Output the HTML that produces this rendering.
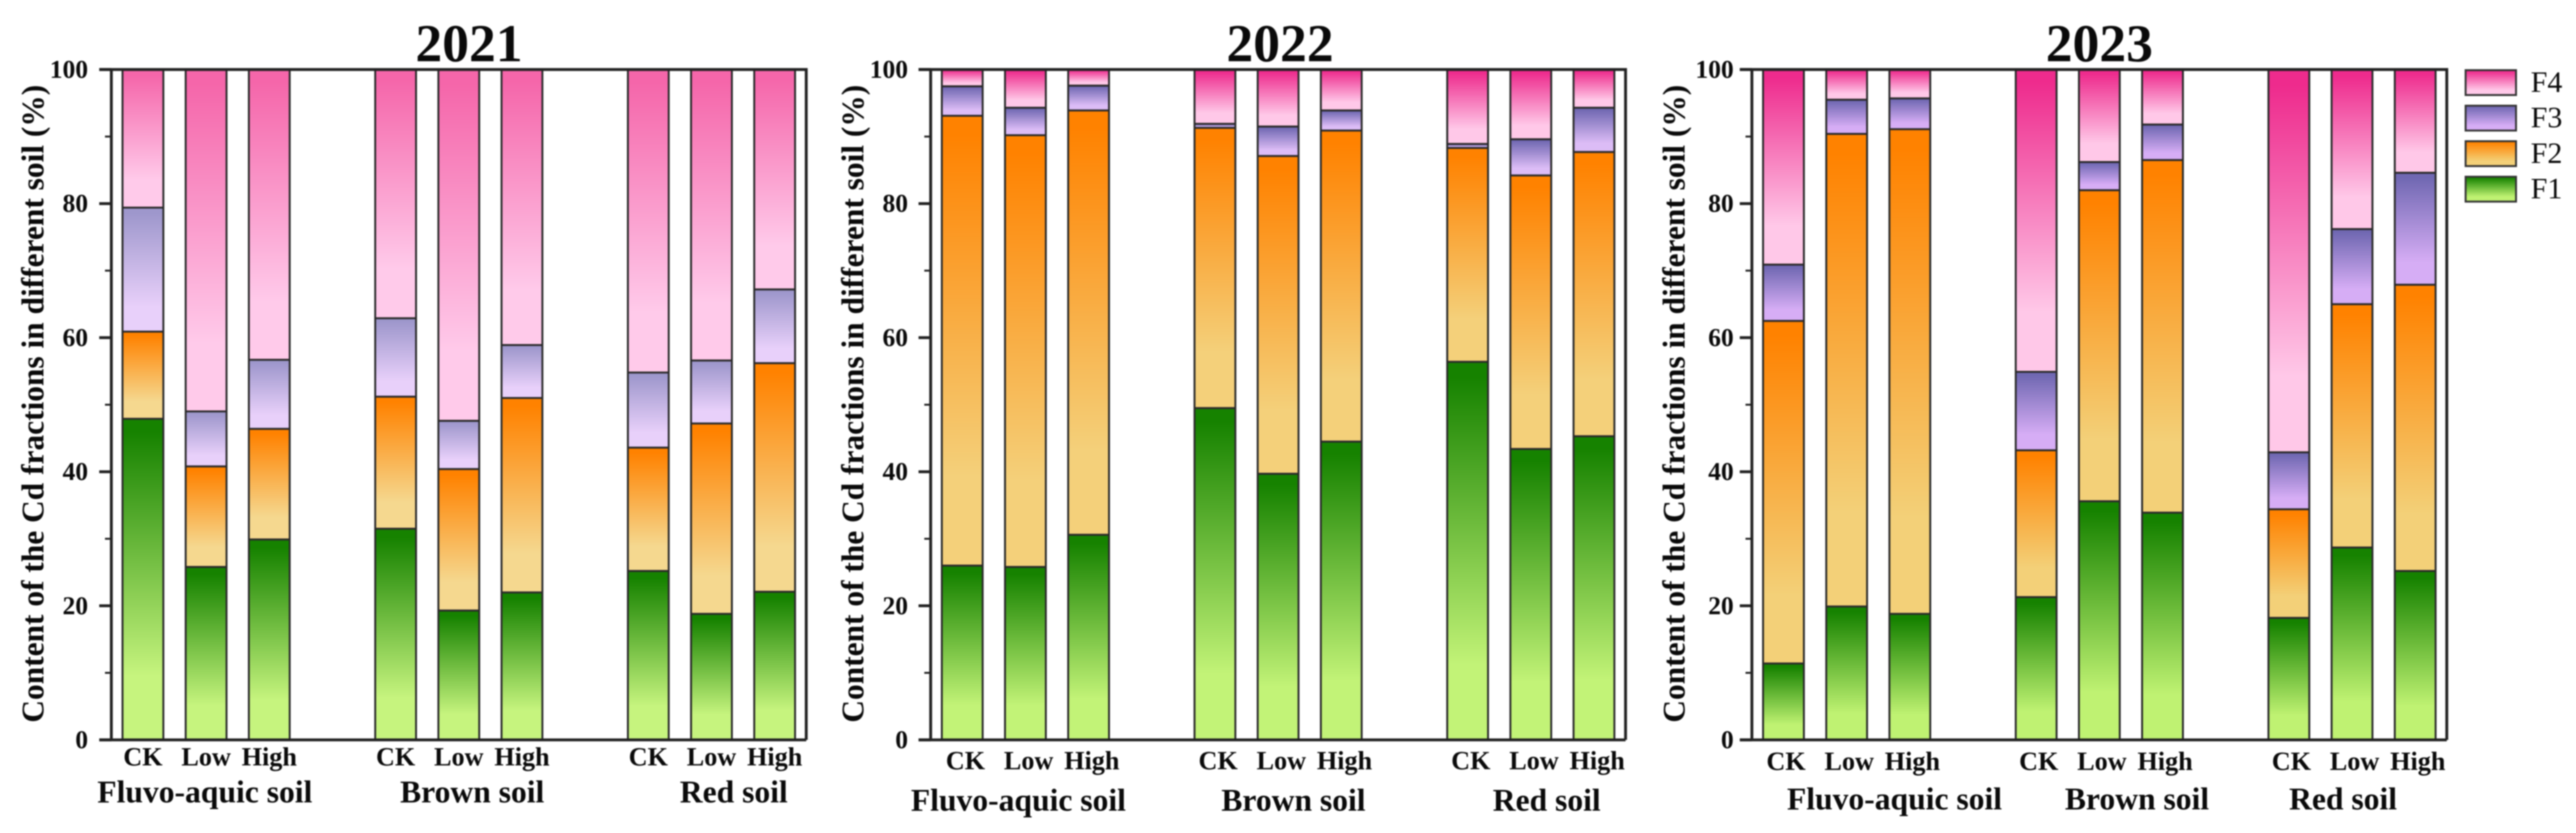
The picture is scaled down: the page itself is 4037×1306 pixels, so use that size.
<!DOCTYPE html>
<html lang="en">
<head>
<meta charset="utf-8">
<title>Cd fractions in different soil</title>
<style>
html,body{margin:0;padding:0;background:#fff;}
body{width:4037px;height:1306px;overflow:hidden;}
svg{display:block;filter:blur(1px);}
text{font-family:"Liberation Serif",serif;fill:#0a0a0a;}
</style>
</head>
<body>
<svg id="figure" xmlns="http://www.w3.org/2000/svg" width="4037" height="1306" viewBox="0 0 4037 1306">
<defs id="defs"></defs>
<rect x="0" y="0" width="4037" height="1306" fill="#ffffff"></rect>
<g id="panels"></g>
<g id="legend"></g>
</svg>
<script>
const years = ['2021', '2022', '2023'];
const treatments = ['CK', 'Low', 'High', 'CK', 'Low', 'High', 'CK', 'Low', 'High'];
const soils = ['Fluvo-aquic soil', 'Brown soil', 'Red soil'];
const seriesNames = ['F1', 'F2', 'F3', 'F4'];
const yTicks = [0, 20, 40, 60, 80, 100];
const yMinorTicks = [10, 30, 50, 70, 90];
const yTitle = 'Content of the Cd fractions in different soil (%)';

const f1_2021 = [47.9, 25.8, 29.9, 31.5, 19.3, 22.0, 25.2, 18.8, 22.1];
const f2_2021 = [13.0, 15.0, 16.5, 19.7, 21.1, 29.0, 18.4, 28.4, 34.1];
const f3_2021 = [18.5, 8.2, 10.3, 11.7, 7.2, 7.9, 11.2, 9.4, 11.0];
const f4_2021 = [20.6, 51.0, 43.3, 37.1, 52.4, 41.1, 45.2, 43.4, 32.8];

const f1_2022 = [26.0, 25.8, 30.6, 49.5, 39.7, 44.5, 56.4, 43.4, 45.3];
const f2_2022 = [67.1, 64.4, 63.3, 41.8, 47.4, 46.4, 31.9, 40.8, 42.4];
const f3_2022 = [4.4, 4.1, 3.7, 0.6, 4.4, 3.0, 0.6, 5.4, 6.6];
const f4_2022 = [2.5, 5.7, 2.4, 8.1, 8.5, 6.1, 11.1, 10.4, 5.7];

const f1_2023 = [11.4, 19.9, 18.8, 21.3, 35.6, 33.9, 18.2, 28.7, 25.2];
const f2_2023 = [51.1, 70.5, 72.3, 21.9, 46.4, 52.6, 16.2, 36.3, 42.7];
const f3_2023 = [8.4, 5.1, 4.6, 11.7, 4.2, 5.3, 8.5, 11.2, 16.7];
const f4_2023 = [29.1, 4.5, 4.3, 45.1, 13.8, 8.2, 57.1, 23.8, 15.4];

const yearSeries = [
  [f1_2021, f2_2021, f3_2021, f4_2021],
  [f1_2022, f2_2022, f3_2022, f4_2022],
  [f1_2023, f2_2023, f3_2023, f4_2023]
];

/* layout only, not data */
const NS = 'http://www.w3.org/2000/svg';
const plotTop = 109, plotBottom = 1160, step = 99, barWidth = 64;
const slots = [0, 1, 2, 4, 5, 6, 8, 9, 10];
const layouts = [
  { left: 174.5, titleX: 735, yTitleX: 68, tickRight: 138, labelShift: 0, treatY: 1200, soilY: 1258, soilX: [321, 740, 1150] },
  { left: 1458.5, titleX: 2006, yTitleX: 1353, tickRight: 1423, labelShift: 5, treatY: 1206, soilY: 1271, soilX: [1596, 2027, 2424] },
  { left: 2745.5, titleX: 3290, yTitleX: 2640, tickRight: 2717, labelShift: 4, treatY: 1207, soilY: 1269, soilX: [2969, 3349, 3672] }
];
const palettes = [
  [['#168200', '#c6f47e'], ['#ff8200', '#f5d88f'], ['#9e97cc', '#e8d0fa'], ['#f566aa', '#ffcaea']],
  [['#168200', '#c2f377'], ['#ff8200', '#f4d07a'], ['#7068b2', '#dcbcf6'], ['#ee2b8d', '#ffc8e8']],
  [['#168200', '#bff272'], ['#ff8200', '#f3d078'], ['#7068b2', '#d6adf5'], ['#ee2b8d', '#ffc8e8']]
];

function make(tag, attrs, parent, text) {
  const node = document.createElementNS(NS, tag);
  for (const k in attrs) node.setAttribute(k, attrs[k]);
  if (text !== undefined) node.textContent = text;
  parent.appendChild(node);
  return node;
}
function yScale(v) {
  return plotBottom - (v / 100) * (plotBottom - plotTop);
}
function xScale(layout, slot) {
  return layout.left + (slot + 0.5) * step;
}

const defs = document.getElementById('defs');
palettes.forEach(function (pal, p) {
  pal.forEach(function (pair, s) {
    const g = make('linearGradient', { id: 'grad-' + p + '-' + s, x1: 0, y1: 0, x2: 0, y2: 1 }, defs);
    make('stop', { offset: '0.04', 'stop-color': pair[0] }, g);
    make('stop', { offset: '0.8', 'stop-color': pair[1] }, g);
  });
});

const panelsRoot = document.getElementById('panels');
years.forEach(function (year, p) {
  const L = layouts[p];
  const right = L.left + 11 * step;
  const panel = make('g', {}, panelsRoot);
  
  

  const title = make('text', { x: L.titleX, y: 96, 'text-anchor': 'middle', 'font-size': 84, 'font-weight': 'bold', fill: '#000' }, panel, year);
  
  

  const yCenter = 633;
  const yt = make('text', {
    x: 0, y: 0, transform: 'translate(' + L.yTitleX + ' ' + yCenter + ') rotate(-90)',
    'text-anchor': 'middle', 'font-size': 50, 'font-weight': 'bold',
    textLength: 1000, lengthAdjust: 'spacingAndGlyphs'
  }, panel, yTitle);
  
  

  /* stacked bars */
  slots.forEach(function (slot, i) {
    const cx = xScale(L, slot);
    let acc = 0;
    yearSeries[p].forEach(function (vals, s) {
      const y0 = yScale(acc);
      acc += vals[i];
      const y1 = yScale(acc);
      const seg = make('rect', {
        x: cx - barWidth / 2, y: y1, width: barWidth, height: Math.max(y0 - y1, 0.1),
        fill: 'url(#grad-' + p + '-' + s + ')', stroke: '#2a2a2a', 'stroke-width': 3
      }, panel);
      
      
    });
  });

  /* axes */
  const frame = make('path', {
    d: 'M' + L.left + ' ' + plotBottom + 'V' + plotTop + 'M' + (L.left - 19) + ' ' + plotTop + 'H' + right + 'V' + plotBottom + 'M' + (L.left - 19) + ' ' + plotBottom + 'H' + right,
    fill: 'none', stroke: '#222', 'stroke-width': 4.5
  }, panel);
  
  

  yTicks.forEach(function (t) {
    const y = yScale(t);
    const tk = make('line', { x1: L.left - 19, x2: L.left, y1: y, y2: y, stroke: '#222', 'stroke-width': 4.5 }, panel);
    
    
    const lb = make('text', { x: L.tickRight, y: y + 13, 'text-anchor': 'end', 'font-size': 40, 'font-weight': 'bold' }, panel, String(t));
    
    
  });
  yMinorTicks.forEach(function (t) {
    const y = yScale(t);
    const tk = make('line', { x1: L.left - 10, x2: L.left, y1: y, y2: y, stroke: '#222', 'stroke-width': 3 }, panel);
    
    
  });

  /* x labels */
  slots.forEach(function (slot, i) {
    const lb = make('text', { x: xScale(L, slot) + L.labelShift, y: L.treatY, 'text-anchor': 'middle', 'font-size': 41, 'font-weight': 'bold' }, panel, treatments[i]);
    
    
  });
  soils.forEach(function (soil, i) {
    const lb = make('text', { x: L.soilX[i], y: L.soilY, 'text-anchor': 'middle', 'font-size': 49.5, 'font-weight': 'bold' }, panel, soil);
    
    
  });
});

/* legend: F4 at top */
const legendRoot = document.getElementById('legend');
const legendOrder = [3, 2, 1, 0];
legendOrder.forEach(function (s, row) {
  const top = 110 + row * 55.7;
  const sw = make('rect', { x: 3864, y: top, width: 79, height: 39, fill: 'url(#grad-2-' + s + ')', stroke: '#333', 'stroke-width': 3 }, legendRoot);
  
  
  const tx = make('text', { x: 3966, y: top + 34, 'font-size': 47 }, legendRoot, seriesNames[s]);
  
  
});
</script>
</body>
</html>
